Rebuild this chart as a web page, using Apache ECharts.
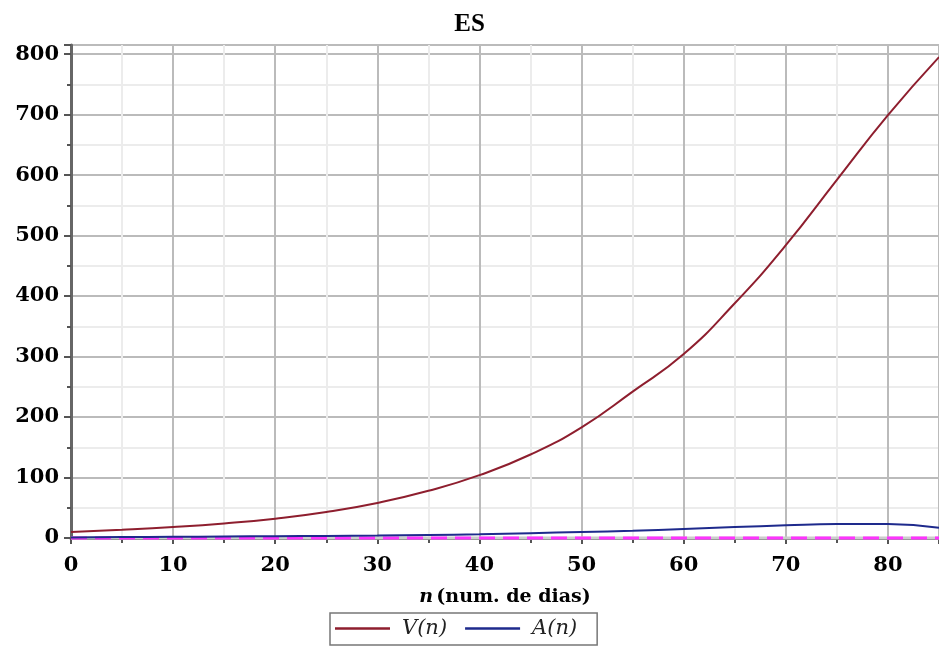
<!DOCTYPE html>
<html>
<head>
<meta charset="utf-8">
<script src="https://cdn.jsdelivr.net/npm/echarts@6/dist/echarts.min.js"></script>
<style>
  html, body { margin: 0; padding: 0; background: #fff; }
  #chart { width: 939px; height: 648px; }
</style>
</head>
<body>
<div id="chart"></div>
<script>
// dias
const nValues = [0, 5, 10, 15, 20, 25, 30, 35, 40, 45, 50, 55, 60, 65, 70, 75, 80, 85];
// V(n)
const vValues = [10, 13.5, 18, 24, 32, 43, 58, 78, 104, 138, 183, 242, 304, 388, 484, 592, 699, 795];
// A(n)
const aValues = [1, 1.5, 2, 2.5, 3, 3.5, 4, 5, 6, 8, 10, 12, 15, 18, 21, 23, 23, 17];
// linha de referencia em zero
const zeroValues = nValues.map(() => 0);

const serif = 'DejaVu Serif';
const chart = echarts.init(document.getElementById('chart'));

const toPairs = (ys) => nValues.map((n, i) => [n, ys[i]]);

const option = {
  animation: false,
  title: {
    text: 'ES',
    left: 'center',
    top: 7,
    textStyle: { fontFamily: 'Liberation Serif', fontSize: 25, fontWeight: 'bold', color: '#000' }
  },
  grid: {
    left: 71, right: 0, top: 45, bottom: 110,
    show: true, borderColor: '#333', borderWidth: 1
  },
  legend: {
    data: ['V(n)', 'A(n)'],
    left: 330,
    top: 613,
    icon: 'rect',
    borderColor: '#777',
    borderWidth: 1.5,
    padding: [5, 20, 6, 5],
    itemWidth: 55,
    itemHeight: 2.5,
    itemGap: 18,
    textStyle: { fontFamily: serif, fontSize: 21, fontStyle: 'italic', color: '#222', padding: [0, 0, 0, 7] }
  },
  xAxis: {
    type: 'value',
    min: 0, max: 85, interval: 10,
    name: '{i|n} {b|(num. de dias)}',
    nameLocation: 'middle',
    nameGap: 50,
    nameTextStyle: {
      rich: {
        i: { fontFamily: serif, fontSize: 19, fontWeight: 'bold', fontStyle: 'italic', color: '#000' },
        b: { fontFamily: serif, fontSize: 19, fontWeight: 'bold', color: '#000' }
      }
    },
    axisLine: { onZero: false, lineStyle: { color: '#666', width: 3 } },
    axisTick: { length: 6, lineStyle: { color: '#555', width: 2 } },
    minorTick: { show: true, splitNumber: 2, length: 5, lineStyle: { color: '#555', width: 2 } },
    axisLabel: { fontFamily: serif, fontSize: 21, fontWeight: 'bold', color: '#000', margin: 17, showMaxLabel: false },
    splitLine: { lineStyle: { color: '#bbb', width: 2 } },
    minorSplitLine: { show: true, lineStyle: { color: '#ececec', width: 2 } }
  },
  yAxis: {
    type: 'value',
    min: 0, max: 815, interval: 100,
    axisLine: { show: true, onZero: false, lineStyle: { color: '#666', width: 3 } },
    axisTick: { show: true, length: 7, lineStyle: { color: '#555', width: 2 } },
    minorTick: { show: true, splitNumber: 2, length: 4, lineStyle: { color: '#555', width: 2 } },
    axisLabel: { fontFamily: serif, fontSize: 21, fontWeight: 'bold', color: '#000', margin: 12, showMaxLabel: false },
    splitLine: { lineStyle: { color: '#bbb', width: 2 } },
    minorSplitLine: { show: true, lineStyle: { color: '#ececec', width: 2 } }
  },
  series: [
    {
      name: 'zero',
      type: 'line',
      data: toPairs(zeroValues),
      symbol: 'none',
      silent: true,
      clip: false,
      lineStyle: { color: '#ccc', width: 3 },
      z: 5
    },
    {
      name: 'zero-m',
      type: 'line',
      data: toPairs(zeroValues),
      symbol: 'none',
      silent: true,
      clip: false,
      lineStyle: { color: '#ff33ff', width: 3, type: [16, 8] },
      z: 6
    },
    {
      name: 'A(n)',
      type: 'line',
      data: toPairs(aValues),
      smooth: true,
      symbol: 'none',
      lineStyle: { color: '#1e2a8c', width: 2 },
      itemStyle: { color: '#1e2a8c' },
      z: 7
    },
    {
      name: 'V(n)',
      type: 'line',
      data: toPairs(vValues),
      smooth: true,
      symbol: 'none',
      lineStyle: { color: '#8e1e2e', width: 2 },
      itemStyle: { color: '#8e1e2e' },
      z: 8
    }
  ]
};

chart.setOption(option);
</script>
</body>
</html>
